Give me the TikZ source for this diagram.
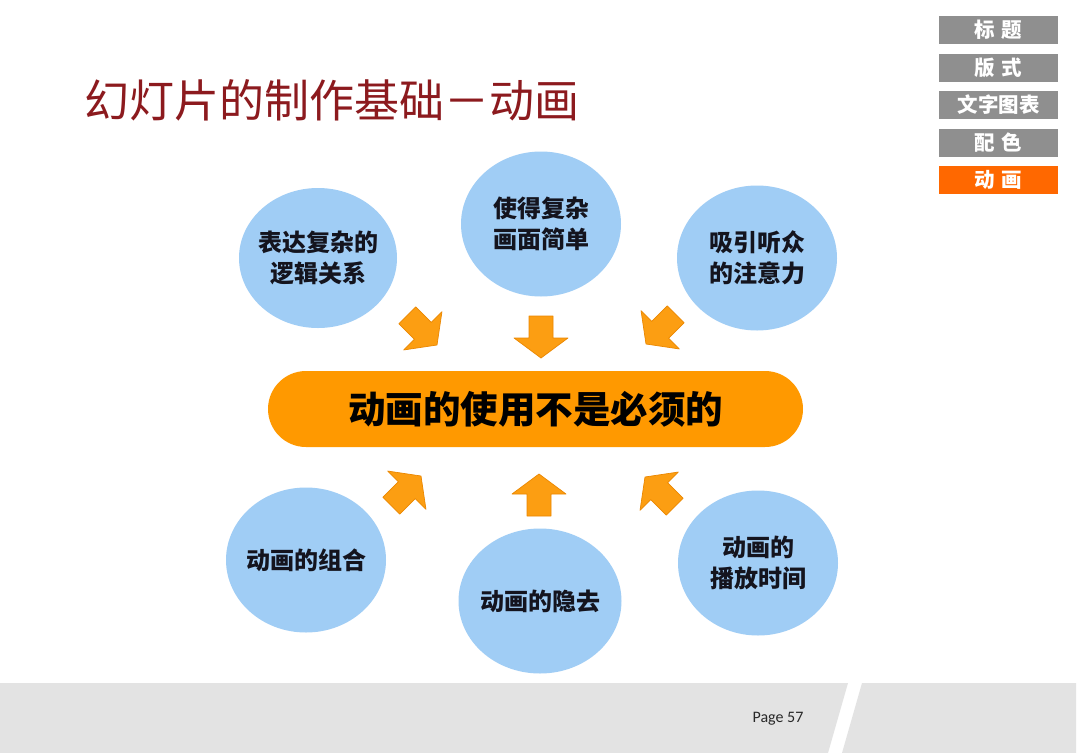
\documentclass[tikz,border=0pt]{standalone}
\usepackage{fontspec}
\setmainfont{Noto Sans CJK SC}
\newfontfamily\pagefont{Carlito}
\usetikzlibrary{shapes.geometric}
\definecolor{titlered}{RGB}{140,26,30}
\definecolor{navgray}{RGB}{143,143,143}
\definecolor{navorange}{RGB}{255,104,0}
\definecolor{bubble}{RGB}{160,205,245}
\definecolor{pillorange}{RGB}{255,153,0}
\definecolor{arrowfill}{RGB}{252,158,18}
\definecolor{arrowedge}{RGB}{235,135,0}
\definecolor{bandgray}{RGB}{227,227,227}
\definecolor{inktext}{RGB}{20,20,30}
\begin{document}
\begin{tikzpicture}[x=1pt,y=-1pt,
  navbox/.style={rectangle, fill=navgray, minimum width=119pt, minimum height=28pt, inner sep=0pt,
    text=white, font=\fontsize{20.5}{21}\selectfont\bfseries},
  navon/.style={navbox, fill=navorange},
  bubblenode/.style={ellipse, fill=bubble, minimum width=160pt, minimum height=145pt, inner sep=0pt},
  bubbletext/.style={align=center, inner sep=0pt, text=inktext, font=\fontsize{24}{31}\selectfont\bfseries},
  pillnode/.style={rectangle, rounded corners=38pt, fill=pillorange, minimum width=535pt, minimum height=76pt,
    text=black, font=\fontsize{37.5}{40}\selectfont\bfseries},
  blockarrow/.pic={\filldraw[fill=arrowfill, draw=arrowedge, line width=0.7pt, line join=round]
    (0,0) -- (-20,-27) -- (-20,-12) -- (-42,-12) -- (-42,12) -- (-20,12) -- (-20,27) -- cycle;}
]
\useasboundingbox (0,0) rectangle (1080,753);
\fill[white] (0,0) rectangle (1080,753);

% bottom band
\fill[bandgray] (0,683) -- (848,683) -- (828,753) -- (0,753) -- cycle;
\fill[bandgray] (862,683) -- (1076,683) -- (1076,753) -- (842,753) -- cycle;
\node[font=\pagefont\fontsize{16}{17}\selectfont, text={rgb,255:red,40;green,40;blue,40}] (page) at (778,719) {Page 57};

% title
\node[anchor=west, text=titlered, font=\fontsize{45}{48}\selectfont, inner sep=0pt] (title) at (84,100) {幻灯片的制作基础－动画};

% navigation
\node[navbox] (n1) at (998.5,30) {标\hspace{7pt}题};
\node[navbox] (n2) at (998.5,68) {版\hspace{7pt}式};
\node[navbox] (n3) at (998.5,105) {文字图表};
\node[navbox] (n4) at (998.5,143) {配\hspace{7pt}色};
\node[navon]  (n5) at (998.5,180) {动\hspace{7pt}画};

% bubbles
\node[bubblenode, minimum width=158pt, minimum height=140pt] (b1) at (318,258) {};
\node[bubblenode] (b2) at (541,224) {};
\node[bubblenode] (b3) at (757,258) {};
\node[bubblenode] (b4) at (306,560) {};
\node[bubblenode, minimum width=163pt] (b5) at (540,601) {};
\node[bubblenode] (b6) at (758,563) {};
\node[bubbletext] (t1) at (b1) {表达复杂的\\逻辑关系};
\node[bubbletext] (t2) at (b2) {使得复杂\\画面简单};
\node[bubbletext] (t3) at (b3) {吸引听众\\的注意力};
\node[bubbletext] (t4) at (b4) {动画的组合};
\node[bubbletext] (t5) at (b5) {动画的隐去};
\node[bubbletext] (t6) at (b6) {动画的\\播放时间};

% central pill
\node[pillnode] (core) at (535.5,409) {动画的使用不是必须的};

% block arrows
\pic[rotate=-45]  at (437,345) {blockarrow};
\pic[rotate=-90]  at (541,358) {blockarrow};
\pic[rotate=-135] at (646,344) {blockarrow};
\pic[rotate=45]   at (421,476) {blockarrow};
\pic[rotate=90]   at (539,474) {blockarrow};
\pic[rotate=135]  at (645,477) {blockarrow};
\end{tikzpicture}
\end{document}
